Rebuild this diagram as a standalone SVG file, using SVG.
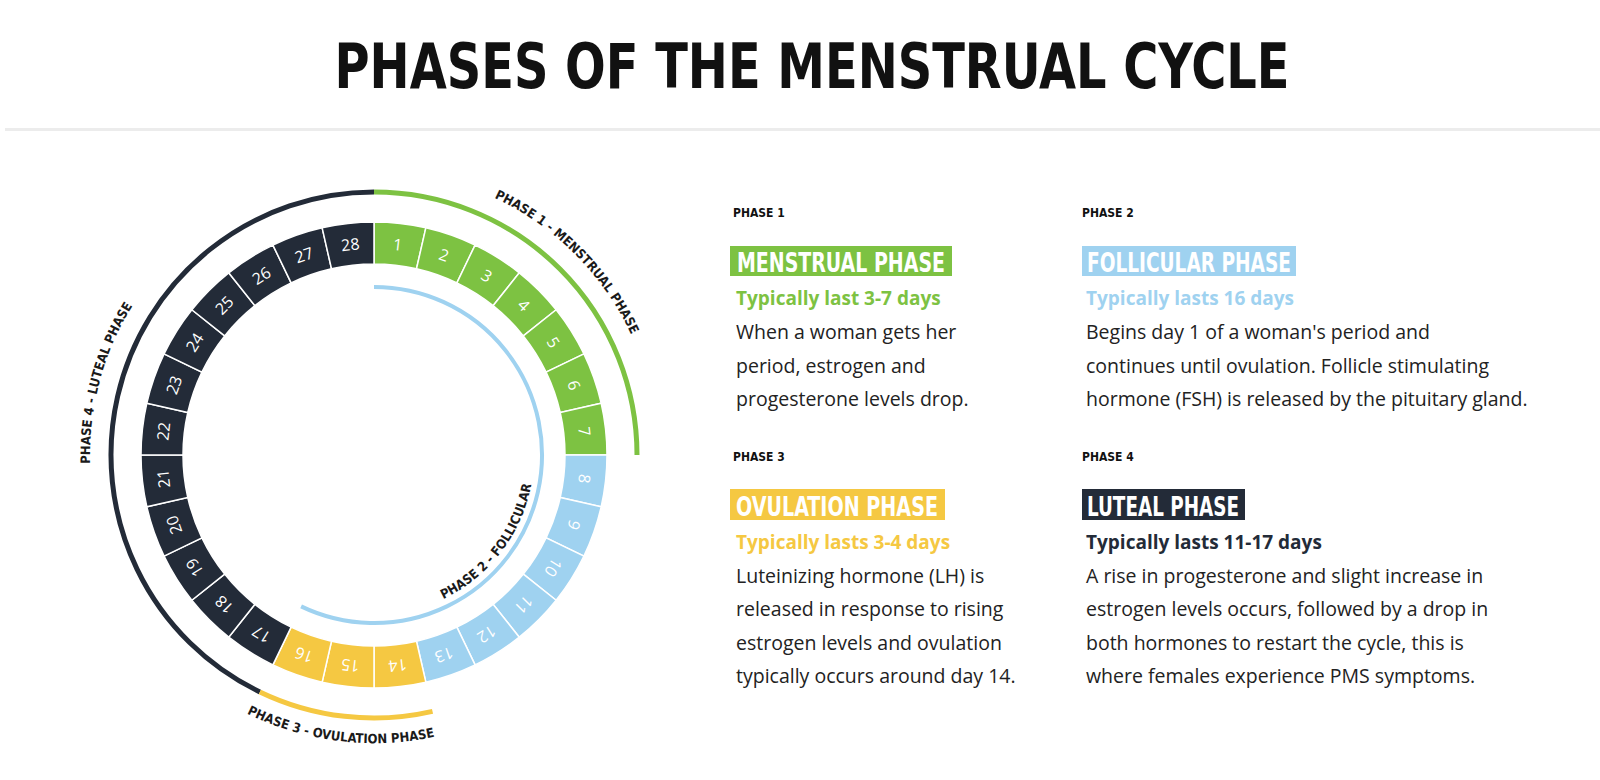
<svg xmlns="http://www.w3.org/2000/svg" width="1600" height="780" viewBox="0 0 1600 780">
<style>
.title{font-family:"DejaVu Sans Condensed","DejaVu Sans",sans-serif;font-weight:bold;font-size:62px;fill:#111}
.lab{font-family:"DejaVu Sans Condensed","DejaVu Sans",sans-serif;font-weight:bold;font-size:13px;fill:#1a1a1a}
.ph{font-family:"DejaVu Sans Condensed","DejaVu Sans",sans-serif;font-weight:bold;font-size:12px;fill:#111}
.hd{font-family:"DejaVu Sans Condensed","DejaVu Sans",sans-serif;font-weight:bold;font-size:26px;fill:#fff}
.sub{font-family:"Open Sans","Liberation Sans",sans-serif;font-weight:bold;font-size:19px}
.body{font-family:"Open Sans","Liberation Sans",sans-serif;font-size:19.5px;fill:#222}
.day{font-family:"Open Sans","Liberation Sans",sans-serif;font-size:16px;fill:#fff;text-anchor:middle}
.seg{stroke:#fff;stroke-width:1.5}
.g{fill:#7dc242}.b{fill:#9fd2f0}.y{fill:#f5c842}.k{fill:#232b38}
</style>
<defs>
<path id="seg" d="M0,-233 A233,233 0 0 1 51.85,-227.16 L42.5,-186.21 A191,191 0 0 0 0,-191 Z"/>
<path id="tp1" d="M447.5,180.7 A284,284 0 0 1 648.3,381.5"/>
<path id="tp4" d="M99.7,528.5 A284,284 0 0 1 173.2,254.2"/>
<path id="tp3" d="M221.4,699.2 A288,288 0 0 0 463,729.2"/>
<path id="tp2" d="M415.4,609.5 A160,160 0 0 0 534,455"/>
</defs>
<rect width="1600" height="780" fill="#fff"/>
<text class="title" x="812" y="88" text-anchor="middle" textLength="955" lengthAdjust="spacingAndGlyphs">PHASES OF THE MENSTRUAL CYCLE</text>
<rect x="5" y="128" width="1595" height="3" fill="#ececec"/>

<g id="ring">
<g transform="translate(374,455) rotate(0)"><use href="#seg" class="seg g"/><text class="day" transform="rotate(6.43)" y="-206">1</text></g>
<g transform="translate(374,455) rotate(12.857)"><use href="#seg" class="seg g"/><text class="day" transform="rotate(6.43)" y="-206">2</text></g>
<g transform="translate(374,455) rotate(25.714)"><use href="#seg" class="seg g"/><text class="day" transform="rotate(6.43)" y="-206">3</text></g>
<g transform="translate(374,455) rotate(38.571)"><use href="#seg" class="seg g"/><text class="day" transform="rotate(6.43)" y="-206">4</text></g>
<g transform="translate(374,455) rotate(51.429)"><use href="#seg" class="seg g"/><text class="day" transform="rotate(6.43)" y="-206">5</text></g>
<g transform="translate(374,455) rotate(64.286)"><use href="#seg" class="seg g"/><text class="day" transform="rotate(6.43)" y="-206">6</text></g>
<g transform="translate(374,455) rotate(77.143)"><use href="#seg" class="seg g"/><text class="day" transform="rotate(6.43)" y="-206">7</text></g>
<g transform="translate(374,455) rotate(90)"><use href="#seg" class="seg b"/><text class="day" transform="rotate(6.43)" y="-206">8</text></g>
<g transform="translate(374,455) rotate(102.857)"><use href="#seg" class="seg b"/><text class="day" transform="rotate(6.43)" y="-206">9</text></g>
<g transform="translate(374,455) rotate(115.714)"><use href="#seg" class="seg b"/><text class="day" transform="rotate(6.43)" y="-206">10</text></g>
<g transform="translate(374,455) rotate(128.571)"><use href="#seg" class="seg b"/><text class="day" transform="rotate(6.43)" y="-206">11</text></g>
<g transform="translate(374,455) rotate(141.429)"><use href="#seg" class="seg b"/><text class="day" transform="rotate(6.43)" y="-206">12</text></g>
<g transform="translate(374,455) rotate(154.286)"><use href="#seg" class="seg b"/><text class="day" transform="rotate(6.43)" y="-206">13</text></g>
<g transform="translate(374,455) rotate(167.143)"><use href="#seg" class="seg y"/><text class="day" transform="rotate(6.43)" y="-206">14</text></g>
<g transform="translate(374,455) rotate(180)"><use href="#seg" class="seg y"/><text class="day" transform="rotate(6.43)" y="-206">15</text></g>
<g transform="translate(374,455) rotate(192.857)"><use href="#seg" class="seg y"/><text class="day" transform="rotate(6.43)" y="-206">16</text></g>
<g transform="translate(374,455) rotate(205.714)"><use href="#seg" class="seg k"/><text class="day" transform="rotate(6.43)" y="-206">17</text></g>
<g transform="translate(374,455) rotate(218.571)"><use href="#seg" class="seg k"/><text class="day" transform="rotate(6.43)" y="-206">18</text></g>
<g transform="translate(374,455) rotate(231.429)"><use href="#seg" class="seg k"/><text class="day" transform="rotate(6.43)" y="-206">19</text></g>
<g transform="translate(374,455) rotate(244.286)"><use href="#seg" class="seg k"/><text class="day" transform="rotate(6.43)" y="-206">20</text></g>
<g transform="translate(374,455) rotate(257.143)"><use href="#seg" class="seg k"/><text class="day" transform="rotate(6.43)" y="-206">21</text></g>
<g transform="translate(374,455) rotate(270)"><use href="#seg" class="seg k"/><text class="day" transform="rotate(6.43)" y="-206">22</text></g>
<g transform="translate(374,455) rotate(282.857)"><use href="#seg" class="seg k"/><text class="day" transform="rotate(6.43)" y="-206">23</text></g>
<g transform="translate(374,455) rotate(295.714)"><use href="#seg" class="seg k"/><text class="day" transform="rotate(6.43)" y="-206">24</text></g>
<g transform="translate(374,455) rotate(308.571)"><use href="#seg" class="seg k"/><text class="day" transform="rotate(6.43)" y="-206">25</text></g>
<g transform="translate(374,455) rotate(321.429)"><use href="#seg" class="seg k"/><text class="day" transform="rotate(6.43)" y="-206">26</text></g>
<g transform="translate(374,455) rotate(334.286)"><use href="#seg" class="seg k"/><text class="day" transform="rotate(6.43)" y="-206">27</text></g>
<g transform="translate(374,455) rotate(347.143)"><use href="#seg" class="seg k"/><text class="day" transform="rotate(6.43)" y="-206">28</text></g>
</g>

<g id="phase-arcs" fill="none">
<path d="M374,192 A263,263 0 0 1 637,455" stroke="#7dc242" stroke-width="5"/>
<path d="M259.89,691.96 A263,263 0 0 1 374,192" stroke="#232b38" stroke-width="5"/>
<path d="M432.52,711.41 A263,263 0 0 1 259.89,691.96" stroke="#f5c842" stroke-width="5"/>
<path d="M374,287 A168,168 0 1 1 301.11,606.36" stroke="#9fd2f0" stroke-width="4"/>
</g>
<g id="arc-labels">
<text class="lab"><textPath href="#tp1" startOffset="50%" text-anchor="middle">PHASE 1 - MENSTRUAL PHASE</textPath></text>
<text class="lab"><textPath href="#tp4" startOffset="50%" text-anchor="middle">PHASE 4 - LUTEAL PHASE</textPath></text>
<text class="lab"><textPath href="#tp3" startOffset="50%" text-anchor="middle">PHASE 3 - OVULATION PHASE</textPath></text>
<text class="lab"><textPath href="#tp2" startOffset="50%" text-anchor="middle">PHASE 2 - FOLLICULAR</textPath></text>
</g>

<g id="phase1">
<text class="ph" x="733" y="217">PHASE 1</text>
<rect x="730" y="246" width="222" height="30" fill="#7dc242"/>
<text class="hd" x="737" y="272" textLength="208" lengthAdjust="spacingAndGlyphs">MENSTRUAL PHASE</text>
<text class="sub" x="736" y="305" fill="#7dc242">Typically last 3-7 days</text>
<text class="body" x="736" y="339">When a woman gets her</text>
<text class="body" x="736" y="373">period, estrogen and</text>
<text class="body" x="736" y="406">progesterone levels drop.</text>
</g>
<g id="phase2">
<text class="ph" x="1082" y="217">PHASE 2</text>
<rect x="1082" y="246" width="214" height="30" fill="#9fd2f0"/>
<text class="hd" x="1087" y="272" textLength="204" lengthAdjust="spacingAndGlyphs">FOLLICULAR PHASE</text>
<text class="sub" x="1086" y="305" fill="#9fd2f0">Typically lasts 16 days</text>
<text class="body" x="1086" y="339">Begins day 1 of a woman's period and</text>
<text class="body" x="1086" y="373">continues until ovulation. Follicle stimulating</text>
<text class="body" x="1086" y="406">hormone (FSH) is released by the pituitary gland.</text>
</g>
<g id="phase3">
<text class="ph" x="733" y="461">PHASE 3</text>
<rect x="730" y="489" width="215" height="31" fill="#f5c842"/>
<text class="hd" x="736" y="516" textLength="202" lengthAdjust="spacingAndGlyphs">OVULATION PHASE</text>
<text class="sub" x="736" y="549" fill="#f5c842">Typically lasts 3-4 days</text>
<text class="body" x="736" y="583">Luteinizing hormone (LH) is</text>
<text class="body" x="736" y="616">released in response to rising</text>
<text class="body" x="736" y="650">estrogen levels and ovulation</text>
<text class="body" x="736" y="683">typically occurs around day 14.</text>
</g>
<g id="phase4">
<text class="ph" x="1082" y="461">PHASE 4</text>
<rect x="1082" y="489" width="163" height="31" fill="#232b38"/>
<text class="hd" x="1087" y="516" textLength="152" lengthAdjust="spacingAndGlyphs">LUTEAL PHASE</text>
<text class="sub" x="1086" y="549" fill="#232b38">Typically lasts 11-17 days</text>
<text class="body" x="1086" y="583">A rise in progesterone and slight increase in</text>
<text class="body" x="1086" y="616">estrogen levels occurs, followed by a drop in</text>
<text class="body" x="1086" y="650">both hormones to restart the cycle, this is</text>
<text class="body" x="1086" y="683">where females experience PMS symptoms.</text>
</g>
</svg>
